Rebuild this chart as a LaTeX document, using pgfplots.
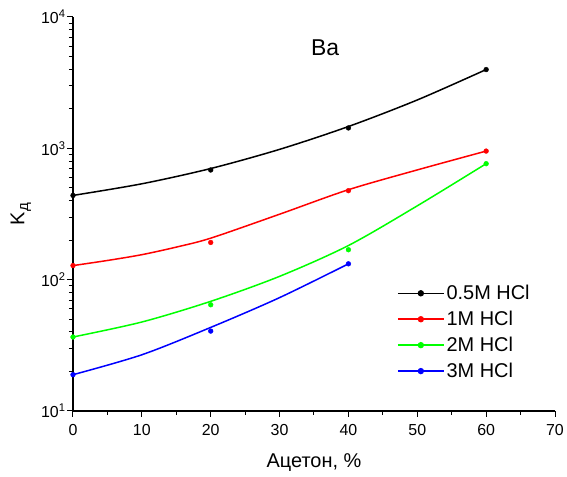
\documentclass[border=0pt]{standalone}
\usepackage{fontspec}
\setmainfont{Liberation Sans}
\usepackage{pgfplots}
\pgfplotsset{compat=1.18}
\definecolor{cred}{RGB}{255,0,0}
\definecolor{cgreen}{RGB}{0,255,0}
\definecolor{cblue}{RGB}{0,0,255}

\begin{document}
\begin{tikzpicture}
\useasboundingbox (-73bp,-66bp) rectangle (494bp,411bp);
\begin{axis}[
  at={(0,0)}, anchor=south west,
  scale only axis, width=482bp, height=394bp,
  ymode=log, xmin=0, xmax=70, ymin=10, ymax=10000,
  axis x line*=bottom, axis y line*=left,
  axis line style={line width=1.2bp, -},
  xtick={0,10,...,70}, minor x tick num=1,
  ytick={10,100,1000,10000},
  yticklabels={10\textsuperscript{1},10\textsuperscript{2},10\textsuperscript{3},10\textsuperscript{4}},
  tick align=outside, major tick length=6bp, minor tick length=4bp,
  every tick/.style={black, line width=1bp},
  tick label style={font=\fontsize{16}{18}\selectfont},
  xticklabel style={yshift=-4bp},
  yticklabel style={xshift=2bp},
  /pgf/number format/assume math mode=true,
  xlabel={Ацетон, \%},
  ylabel={K\raisebox{-0.35ex}{\fontsize{15}{15}\selectfont д}},
  label style={font=\fontsize{20}{22}\selectfont},
  xlabel style={at={(axis description cs:0.5,-0.132)}, anchor=center},
  ylabel style={at={(axis description cs:-0.108,0.5)}, anchor=center},
  clip=false,
  legend style={draw=none, fill=none, at={(rel axis cs:0.672,0.322)}, anchor=north west,
    font=\fontsize{20}{22}\selectfont, inner sep=0pt, row sep=8bp,
    nodes={inner xsep=2bp, inner ysep=1bp}},
  legend cell align=left,
  legend image code/.code={\draw[mark repeat=2, mark phase=2, #1] plot coordinates {(0bp,0bp) (23bp,0bp) (46bp,0bp)};},
]

% fitted curves
\addplot[black, line width=1.5bp, smooth, forget plot] coordinates {(0,438) (10,537) (20,702) (30,982) (40,1466) (50,2335) (60,3980)};
\addplot[cred, line width=1.5bp, smooth, forget plot] coordinates {(0,128) (5,140) (10,155) (15,177) (20,207) (30,315) (40,484) (50,685) (60,953)};
\addplot[cgreen, line width=1.5bp, smooth, forget plot] coordinates {(0,36.6) (10,47.6) (20,68.4) (30,106) (40,182) (50,365) (60,764)};
\addplot[cblue, line width=1.5bp, smooth, forget plot] coordinates {(0,18.9) (10,26.8) (20,43.3) (30,73) (40,132)};

% measured points
\addplot[black, only marks, mark=*, mark size=2.4bp, forget plot] coordinates {(0,438) (20,684) (40,1430) (60,3980)};
\addplot[cred, only marks, mark=*, mark size=2.4bp, forget plot] coordinates {(0,128) (20,192) (40,476) (60,953)};
\addplot[cgreen, only marks, mark=*, mark size=2.4bp, forget plot] coordinates {(0,36.6) (20,64.4) (40,169) (60,764)};
\addplot[cblue, only marks, mark=*, mark size=2.4bp, forget plot] coordinates {(0,18.9) (20,40.6) (40,132)};

\addlegendimage{black, line width=1.5bp, mark=*, mark size=2.4bp}
\addlegendentry{0.5M HCl}
\addlegendimage{cred, line width=1.5bp, mark=*, mark size=2.4bp}
\addlegendentry{1M HCl}
\addlegendimage{cgreen, line width=1.5bp, mark=*, mark size=2.4bp}
\addlegendentry{2M HCl}
\addlegendimage{cblue, line width=1.5bp, mark=*, mark size=2.4bp}
\addlegendentry{3M HCl}

\node[font=\fontsize{23}{25}\selectfont] at (axis cs:36.6,5800) {Ba};
\end{axis}
\end{tikzpicture}
\end{document}
